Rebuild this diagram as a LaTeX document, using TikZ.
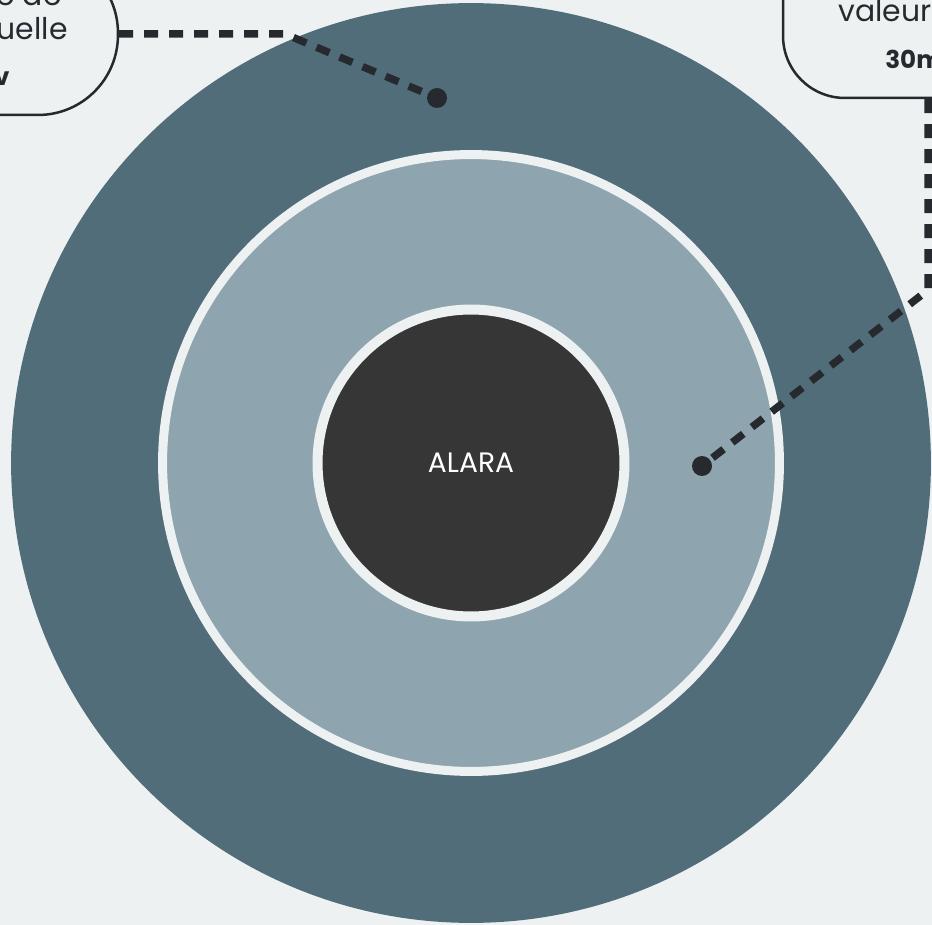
\documentclass[tikz,border=0pt]{standalone}
\usepackage{fontspec}
\setmainfont{Poppins}
\definecolor{bg}{HTML}{EDF1F2}
\definecolor{outerc}{HTML}{526D7A}
\definecolor{midc}{HTML}{8EA4AE}
\definecolor{innerc}{HTML}{363636}
\definecolor{ink}{HTML}{262A2F}
\begin{document}
\begin{tikzpicture}[x=0.02cm,y=-0.02cm,
  conn/.style={draw=ink,line width=0.15cm,dash pattern=on 0.28cm off 0.22cm},
  dotnode/.style={circle,fill=ink,inner sep=0pt,minimum size=0.4cm},
  callout/.style={draw=ink,line width=0.05cm,fill=bg},
  bodytxt/.style={text=ink,font=\fontsize{17}{20}\selectfont,inner sep=0pt},
  boldtxt/.style={text=ink,font=\fontsize{14}{17}\selectfont\bfseries,inner sep=0pt}]
\useasboundingbox (0,0) rectangle (932,925);
\clip (0,0) rectangle (932,925);
\fill[bg] (0,0) rectangle (932,925);
% rings
\fill[outerc] (471,463) circle[radius=9.2cm];
\node[circle,fill=midc,draw=bg,line width=0.18cm,minimum size=12.34cm,inner sep=0pt] (mid) at (471,463) {};
\node[circle,fill=innerc,draw=bg,line width=0.2cm,minimum size=6.14cm,inner sep=0pt,
  text=white,font=\fontsize{16}{19}\selectfont] (alara) at (471,463) {ALARA};
% callout boxes
\node[callout,rounded corners=1.6cm,minimum width=6.36cm,minimum height=3.24cm] (lbox) at (-41,34) {};
\node[callout,rounded corners=1.24cm,minimum width=5.8cm,minimum height=3.16cm] (rbox) at (928,19) {};
% texts
\node[bodytxt,anchor=base east] (lt1) at (62,6) {Limite de};
\node[bodytxt,anchor=base east] (lt2) at (68,40) {dose annuelle};
\node[boldtxt,anchor=base east] (lt3) at (10,86) {20 mSv};
\node[bodytxt,anchor=base west] (rt1) at (838,22) {valeur limite};
\node[boldtxt,anchor=base west] (rt2) at (885,69) {30mSv};
% dots
\node[dotnode] (dl) at (437,98) {};
\node[dotnode] (dr) at (702,466) {};
\coordinate (bl) at (285,34);
\coordinate (br) at (928,290);
% connectors
\draw[conn] (lbox.east) -- (bl) -- (dl.center);
\draw[conn] (rbox.south) -- (br) -- (dr.center);
\end{tikzpicture}
\end{document}
